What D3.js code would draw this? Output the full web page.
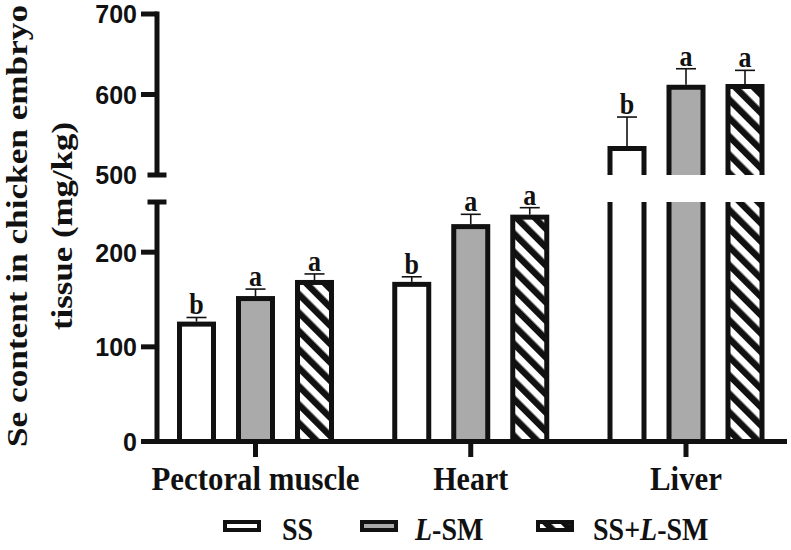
<!DOCTYPE html>
<html><head><meta charset="utf-8">
<script src="https://cdn.jsdelivr.net/npm/d3@7"></script>
<style>html,body{margin:0;padding:0;background:#fff;}svg{display:block;}</style>
</head><body>
<svg id="chart" width="791" height="550"></svg>
<script>
const categories = ["Pectoral muscle", "Heart", "Liver"];
const series = ["SS", "L-SM", "SS+L-SM"];
const ssMean = [124, 166, 533];
const ssSD = [7, 8, 39];
const lsmMean = [151, 227, 609];
const lsmSD = [10, 13, 23];
const mixMean = [168, 237, 610];
const mixSD = [9, 10, 20];
const ssLetters = ["b", "b", "b"];
const lsmLetters = ["a", "a", "a"];
const mixLetters = ["a", "a", "a"];
const lowerTicks = [0, 100, 200];
const upperTicks = [500, 600, 700];

const means = [ssMean, lsmMean, mixMean];
const sds = [ssSD, lsmSD, mixSD];
const letters = [ssLetters, lsmLetters, mixLetters];

const svg = d3.select("#chart");
const INK = "#111";
const SERIF = "'Liberation Serif','Times New Roman',serif";
const SANS = "'Liberation Sans',Arial,sans-serif";

const defs = svg.append("defs");
const pat = defs.append("pattern").attr("id", "hatch")
  .attr("patternUnits", "userSpaceOnUse").attr("width", 13).attr("height", 13)
  .attr("patternTransform", "rotate(-45)");
pat.append("rect").attr("width", 13).attr("height", 13).attr("fill", "#fff");
pat.append("rect").attr("x", 0).attr("width", 6.5).attr("height", 13).attr("fill", INK);

const axisX = 157;
const lowMax = 253;
const yLow = d3.scaleLinear().domain([0, lowMax]).range([441.5, 202]);
const yUp = d3.scaleLinear().domain([500, 700]).range([175, 14]);
const yv = v => v >= 500 ? yUp(v) : yLow(v);

const xGroup = d3.scalePoint().domain(categories).range([255.5, 686]);
const xSeries = d3.scaleBand().domain(series).range([-88.5, 88.5]);
const barW = 34;
const fills = ["#fff", "#aaaaaa", "url(#hatch)"];

// bars
categories.forEach((c, ci) => {
  series.forEach((s, si) => {
    const v = means[si][ci], sd = sds[si][ci];
    const cx = xGroup(c) + xSeries(s) + xSeries.bandwidth() / 2;
    const l = cx - barW / 2, r = cx + barW / 2;
    const g = svg.append("g");
    if (v < 500) {
      g.append("rect").attr("x", l).attr("y", yLow(v)).attr("width", barW)
        .attr("height", yLow(0) - yLow(v)).attr("fill", fills[si]);
      g.append("rect").attr("x", l).attr("y", yLow(v)).attr("width", barW)
        .attr("height", yLow(0) - yLow(v)).attr("fill", "none")
        .attr("stroke", INK).attr("stroke-width", 5);
    } else {
      g.append("rect").attr("x", l).attr("y", yLow(lowMax)).attr("width", barW)
        .attr("height", yLow(0) - yLow(lowMax)).attr("fill", fills[si]);
      g.append("path").attr("d", `M${l},${yLow(lowMax)}L${l},${yLow(0)}L${r},${yLow(0)}L${r},${yLow(lowMax)}`)
        .attr("fill", "none").attr("stroke", INK).attr("stroke-width", 5);
      g.append("rect").attr("x", l).attr("y", yUp(v)).attr("width", barW)
        .attr("height", yUp(500) - yUp(v)).attr("fill", fills[si]);
      g.append("path").attr("d", `M${l},${yUp(500)}L${l},${yUp(v)}L${r},${yUp(v)}L${r},${yUp(500)}`)
        .attr("fill", "none").attr("stroke", INK).attr("stroke-width", 5);
    }
    const yTop = yv(v + sd);
    g.append("line").attr("x1", cx).attr("x2", cx).attr("y1", yv(v) - 2.5).attr("y2", yTop)
      .attr("stroke", INK).attr("stroke-width", 1.6);
    g.append("line").attr("x1", cx - 10).attr("x2", cx + 10).attr("y1", yTop).attr("y2", yTop)
      .attr("stroke", INK).attr("stroke-width", 1.6);
    g.append("text").attr("transform", `translate(${cx},${yTop - 3}) scale(1,1.12)`)
      .attr("text-anchor", "middle")
      .attr("font-family", SERIF).attr("font-weight", "bold").attr("font-size", 26)
      .attr("fill", INK).text(letters[si][ci]);
  });
});

// y axis segments
const ax = svg.append("g").attr("stroke", INK).attr("stroke-width", 5).attr("fill", "none");
ax.append("line").attr("x1", axisX).attr("x2", axisX).attr("y1", yUp(700) - 2.5).attr("y2", yUp(500));
ax.append("line").attr("x1", axisX).attr("x2", axisX).attr("y1", yLow(lowMax)).attr("y2", yLow(0) + 2.5);
ax.append("line").attr("x1", axisX - 9.5).attr("x2", axisX + 9.5).attr("y1", yUp(500)).attr("y2", yUp(500));
ax.append("line").attr("x1", axisX - 9.5).attr("x2", axisX + 9.5).attr("y1", yLow(lowMax)).attr("y2", yLow(lowMax));
upperTicks.filter(t => t !== 500).forEach(t => {
  ax.append("line").attr("x1", 141).attr("x2", axisX).attr("y1", yUp(t)).attr("y2", yUp(t));
});
lowerTicks.forEach(t => {
  ax.append("line").attr("x1", 141).attr("x2", axisX).attr("y1", yLow(t)).attr("y2", yLow(t));
});
ax.append("line").attr("x1", axisX).attr("x2", 787).attr("y1", yLow(0)).attr("y2", yLow(0));
categories.forEach(c => {
  ax.append("line").attr("x1", xGroup(c)).attr("x2", xGroup(c)).attr("y1", yLow(0)).attr("y2", 457);
});

// tick labels
const tl = svg.append("g").attr("font-family", SANS).attr("font-weight", "bold")
  .attr("font-size", 25).attr("fill", INK).attr("text-anchor", "end");
upperTicks.forEach(t => tl.append("text").attr("transform", `translate(137,${yUp(t)}) scale(1,1.05)`).attr("dy", "0.36em").text(t));
lowerTicks.forEach(t => tl.append("text").attr("transform", `translate(137,${yLow(t)}) scale(1,1.05)`).attr("dy", "0.36em").text(t));

// x labels
const xLabelLen = [208, 75, 72];
categories.forEach((c, i) => {
  svg.append("text").attr("transform", `translate(${xGroup(c)},490) scale(1,1.06)`).attr("text-anchor", "middle")
    .attr("font-family", SERIF).attr("font-weight", "bold").attr("font-size", 31)
    .attr("fill", INK).attr("textLength", xLabelLen[i]).attr("lengthAdjust", "spacingAndGlyphs").text(c);
});

// y title
const yt = svg.append("g").attr("transform", "translate(0,226) rotate(-90)")
  .attr("font-family", SERIF).attr("font-weight", "bold").attr("font-size", 30).attr("fill", INK)
  .attr("text-anchor", "middle");
yt.append("text").attr("x", 0).attr("y", 27).attr("textLength", 442).attr("lengthAdjust", "spacingAndGlyphs")
  .text("Se content in chicken embryo");
yt.append("text").attr("x", 0).attr("y", 72).attr("textLength", 208).attr("lengthAdjust", "spacingAndGlyphs")
  .text("tissue (mg/kg)");

// legend
const legBoxX = [223, 360, 536];
const legTextX = [282, 415, 593];
series.forEach((s, i) => {
  svg.append("rect").attr("x", legBoxX[i] + 2).attr("y", 522).attr("width", 34).attr("height", 8)
    .attr("fill", fills[i]).attr("stroke", INK).attr("stroke-width", 4);
  const t = svg.append("text").attr("transform", `translate(${legTextX[i]},540) scale(1,1.1)`)
    .attr("font-family", SERIF).attr("font-weight", "bold").attr("font-size", 28).attr("fill", INK);
  if (s === "SS") t.text("SS");
  else if (s === "L-SM") { t.append("tspan").attr("font-style", "italic").text("L"); t.append("tspan").text("-SM"); }
  else { t.append("tspan").text("SS+"); t.append("tspan").attr("font-style", "italic").text("L"); t.append("tspan").text("-SM"); }
});
</script>
</body></html>
